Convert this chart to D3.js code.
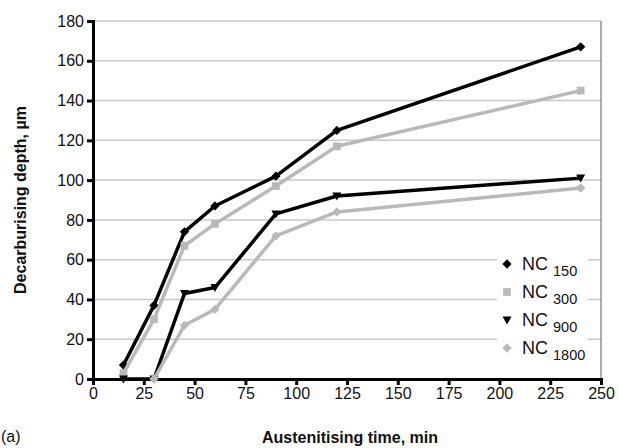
<!DOCTYPE html>
<html>
<head>
<meta charset="utf-8">
<script src="https://cdn.jsdelivr.net/npm/d3@7"></script>
<style>
  body { margin: 0; background: #fff; }
  svg { font-family: "Liberation Sans", Arial, sans-serif; }
</style>
</head>
<body>
<div id="chart"></div>
<script>
// data
var times = [15, 30, 45, 60, 90, 120, 240];
var nc150 = [7, 37, 74, 87, 102, 125, 167];
var nc300 = [3, 30, 67, 78, 97, 117, 145];
var nc900 = [0, 0, 43, 46, 83, 92, 101];
var nc1800 = [null, 0, 27, 35, 72, 84, 96];
var seriesNames = ["150", "300", "900", "1800"];
var xTicks = [0, 25, 50, 75, 100, 125, 150, 175, 200, 225, 250];
var yTicks = [0, 20, 40, 60, 80, 100, 120, 140, 160, 180];

var W = 619, H = 448;
var margin = {top: 21, right: 18, bottom: 69, left: 93},
    width = W - margin.left - margin.right,
    height = H - margin.top - margin.bottom;

var svg = d3.select("#chart").append("svg")
    .attr("width", W)
    .attr("height", H);

var g = svg.append("g")
    .attr("transform", "translate(" + margin.left + "," + margin.top + ")");

var x = d3.scaleLinear().domain([0, 250]).range([0, width]);
var y = d3.scaleLinear().domain([0, 180]).range([height, 0]);

// gridlines
g.append("g")
  .selectAll("line")
  .data(yTicks.filter(function(d) { return d > 0; }))
  .enter().append("line")
    .attr("x1", 0).attr("x2", width)
    .attr("y1", function(d) { return y(d); })
    .attr("y2", function(d) { return y(d); })
    .style("stroke", "#c8c8c8")
    .style("stroke-width", 1.5);

// right border
g.append("line")
  .attr("x1", width).attr("x2", width)
  .attr("y1", 0).attr("y2", height)
  .style("stroke", "#777")
  .style("stroke-width", 1.2);

var grey = "#b9b9b9";
var series = [
  {vals: nc150, color: "#000", marker: "diamond", mcolor: "#000"},
  {vals: nc300, color: grey, marker: "square", mcolor: grey},
  {vals: nc900, color: "#000", marker: "triangle", mcolor: "#000"},
  {vals: nc1800, color: grey, marker: "diamond", mcolor: grey}
];

function markerPath(type) {
  if (type === "diamond") return d3.symbol().type(d3.symbolDiamond2 || d3.symbolDiamond).size(55)();
  if (type === "square") return d3.symbol().type(d3.symbolSquare).size(60)();
  // downward triangle
  return "M-4.5,-3.5L4.5,-3.5L0,4.5Z";
}

var line = d3.line()
  .defined(function(d) { return d.v !== null; })
  .x(function(d) { return x(d.t); })
  .y(function(d) { return y(d.v); });

// legend box (white background)
var leg = g.append("g").attr("transform", "translate(" + (497 - margin.left) + "," + (248 - margin.top) + ")");
leg.append("rect")
  .attr("width", 91).attr("height", 114)
  .style("fill", "#fff");

// axes
var yAxis = g.append("g")
  .call(d3.axisLeft(y).tickValues(yTicks).tickSize(6).tickPadding(3));
var xAxis = g.append("g")
  .attr("transform", "translate(0," + height + ")")
  .call(d3.axisBottom(x).tickValues(xTicks).tickSize(6).tickPadding(3));

[xAxis, yAxis].forEach(function(a) {
  a.select(".domain").style("stroke", "#000").style("stroke-width", 3);
  a.selectAll(".tick line").style("stroke", "#000").style("stroke-width", 3);
  a.selectAll(".tick text")
    .style("font-size", "16px")
    .style("font-family", "'Liberation Sans', Arial, sans-serif")
    .style("fill", "#111");
});

series.forEach(function(s) {
  var pts = times.map(function(t, i) { return {t: t, v: s.vals[i]}; });
  g.append("path")
    .datum(pts)
    .attr("d", line)
    .style("fill", "none")
    .style("stroke", s.color)
    .style("stroke-width", 3.5)
    .style("stroke-linejoin", "round");
  g.selectAll(null)
    .data(pts.filter(function(d) { return d.v !== null; }))
    .enter().append("path")
      .attr("d", markerPath(s.marker))
      .attr("transform", function(d) { return "translate(" + x(d.t) + "," + y(d.v) + ")"; })
      .style("fill", s.mcolor);
});

// legend entries
series.forEach(function(s, i) {
  var row = leg.append("g").attr("transform", "translate(0," + (16 + i * 28) + ")");
  row.append("path")
    .attr("d", markerPath(s.marker))
    .attr("transform", "translate(10,0)")
    .style("fill", s.mcolor);
  var t = row.append("text")
    .attr("x", 25).attr("y", 6)
    .style("font-size", "18px")
    .style("fill", "#111");
  t.append("tspan").text("NC ");
  t.append("tspan").attr("dy", 6).style("font-size", "14.5px").text(seriesNames[i]);
});

// axis titles
svg.append("text")
  .attr("x", 350).attr("y", 443)
  .attr("text-anchor", "middle")
  .style("font-size", "16px")
  .style("font-weight", "bold")
  .style("fill", "#111")
  .text("Austenitising time, min");

svg.append("text")
  .attr("transform", "translate(26," + (margin.top + height / 2) + ") rotate(-90)")
  .attr("text-anchor", "middle")
  .style("font-size", "16px")
  .style("font-weight", "bold")
  .style("fill", "#111")
  .text("Decarburising depth, µm");

svg.append("text")
  .attr("x", 1).attr("y", 442)
  .style("font-size", "16px")
  .style("fill", "#111")
  .text("(a)");
</script>
</body>
</html>
